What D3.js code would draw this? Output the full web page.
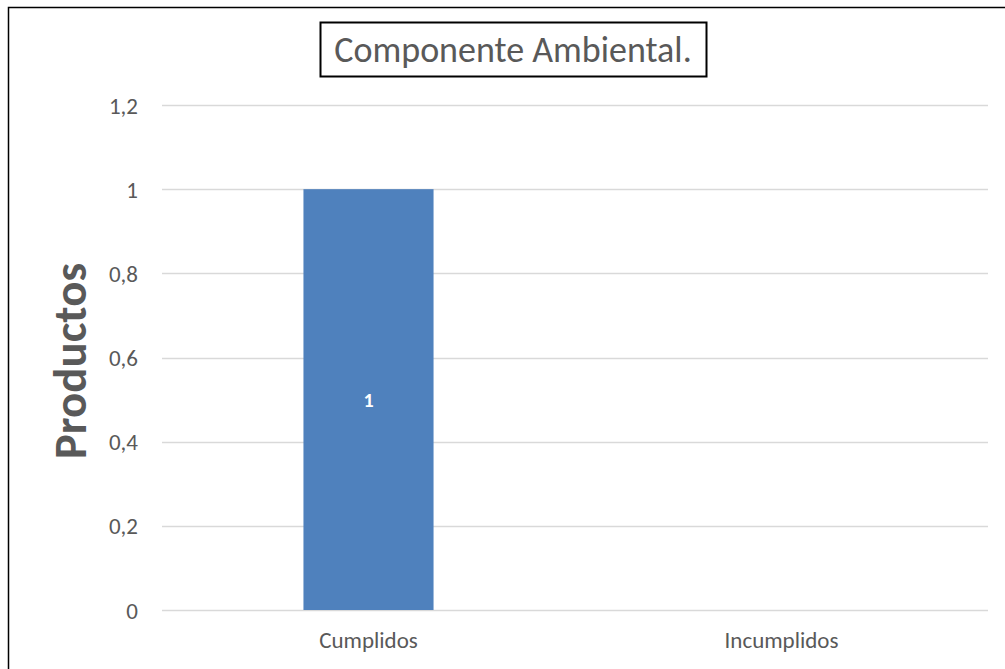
<!DOCTYPE html>
<html>
<head>
<meta charset="utf-8">
<script src="https://cdn.jsdelivr.net/npm/d3@7"></script>
<style>
  html, body { margin: 0; padding: 0; background: #fff; }
  svg { display: block; font-family: Carlito, Lato, "Open Sans", sans-serif; }
</style>
</head>
<body>
<svg id="chart" width="1005" height="669"></svg>
<script>
'use strict';

// chart values
var categories = ['Cumplidos', 'Incumplidos'];
var values = [1, null];
var yTicks = [0, 0.2, 0.4, 0.6, 0.8, 1, 1.2];
var yTickLabels = ['0', '0,2', '0,4', '0,6', '0,8', '1', '1,2'];
var title = 'Componente Ambiental.';
var yTitle = 'Productos';

var svg = d3.select('#chart');
var plot = { left: 162, right: 988, top: 105, bottom: 610 };

var x = d3.scaleBand()
  .domain(categories)
  .range([plot.left, plot.right])
  .padding(0);

var y = d3.scaleLinear()
  .domain([0, 1.2])
  .range([plot.bottom, plot.top]);

var barWidth = x.bandwidth() * 0.315;

// outer frame
svg.append('rect')
  .attr('x', 8.5).attr('y', 7.5)
  .attr('width', 1100).attr('height', 700)
  .attr('fill', 'none')
  .attr('stroke', '#000')
  .attr('stroke-width', 1.5);

// gridlines
svg.append('g')
  .selectAll('line')
  .data(yTicks)
  .join('line')
  .attr('x1', plot.left).attr('x2', plot.right)
  .attr('y1', function(d) { return Math.round(y(d)) + 0.5; })
  .attr('y2', function(d) { return Math.round(y(d)) + 0.5; })
  .attr('stroke', '#d9d9d9')
  .attr('stroke-width', 1.5);

// y axis labels
var yAxis = d3.axisLeft(y)
  .tickValues(yTicks)
  .tickSize(0)
  .tickPadding(24)
  .tickFormat(function(d, i) { return yTickLabels[i]; });

svg.append('g')
  .attr('transform', 'translate(' + plot.left + ',0)')
  .call(yAxis)
  .call(function(g) {
    g.select('.domain').remove();
    g.selectAll('text')
      .attr('fill', '#595959')
      .attr('dy', '0.35em')
      .style('font-size', '23px')
      .style('font-family', 'Carlito, Lato, "Open Sans", sans-serif');
  });

// x axis labels
var xAxis = d3.axisBottom(x).tickSize(0).tickPadding(22);
svg.append('g')
  .attr('transform', 'translate(0,' + plot.bottom + ')')
  .call(xAxis)
  .call(function(g) {
    g.select('.domain').remove();
    g.selectAll('text')
      .attr('fill', '#595959')
      .style('font-size', '23px')
      .style('font-family', 'Carlito, Lato, "Open Sans", sans-serif');
  });

// bars
var barData = categories.map(function(c, i) { return { cat: c, val: values[i] }; })
  .filter(function(d) { return d.val != null; });

svg.append('g')
  .selectAll('rect')
  .data(barData)
  .join('rect')
  .attr('x', function(d) { return x(d.cat) + (x.bandwidth() - barWidth) / 2; })
  .attr('y', function(d) { return y(d.val); })
  .attr('width', barWidth)
  .attr('height', function(d) { return y(0) - y(d.val); })
  .attr('fill', '#4f81bd');

// data labels
svg.append('g')
  .selectAll('text')
  .data(barData)
  .join('text')
  .attr('x', function(d) { return x(d.cat) + x.bandwidth() / 2; })
  .attr('y', function(d) { return (y(d.val) + y(0)) / 2 + 7; })
  .attr('text-anchor', 'middle')
  .attr('fill', '#fff')
  .style('font-size', '20px')
  .style('font-weight', 'bold')
  .text(function(d) { return d.val; });

// y title
svg.append('text')
  .attr('transform', 'translate(86,361) rotate(-90)')
  .attr('text-anchor', 'middle')
  .attr('fill', '#595959')
  .style('font-size', '47px')
  .style('font-weight', 'bold')
  .text(yTitle);

// chart title with box
svg.append('rect')
  .attr('x', 320.5).attr('y', 22.5)
  .attr('width', 386).attr('height', 54)
  .attr('fill', '#fff')
  .attr('stroke', '#000')
  .attr('stroke-width', 2);

svg.append('text')
  .attr('x', 513)
  .attr('y', 62)
  .attr('text-anchor', 'middle')
  .attr('fill', '#595959')
  .style('font-size', '36px')
  .text(title);
</script>
</body>
</html>
